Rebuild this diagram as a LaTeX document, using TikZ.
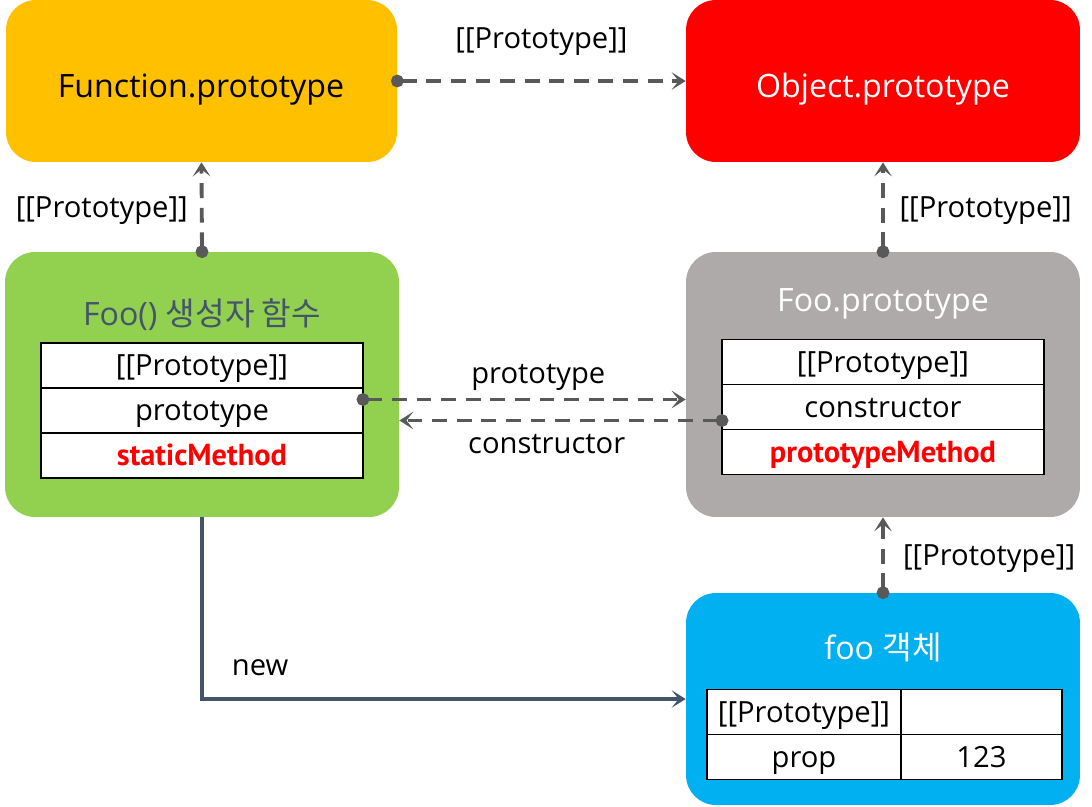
\documentclass[tikz,border=0pt]{standalone}
\usepackage{fontspec}
\setmainfont{Open Sans}
\newfontfamily\kr{Noto Sans CJK KR}
\newfontfamily\methodfont{PT Sans}
\usetikzlibrary{arrows.meta, positioning, calc}

\definecolor{fnyellow}{HTML}{FFC000}
\definecolor{objred}{HTML}{FF0000}
\definecolor{ctorgreen}{HTML}{92D050}
\definecolor{protogray}{HTML}{AEAAAA}
\definecolor{instblue}{HTML}{00B0F0}
\definecolor{slate}{HTML}{44546A}
\definecolor{linkgray}{HTML}{595959}

\begin{document}
\begin{tikzpicture}[
    x=0.02cm, y=-0.02cm,
    box/.style={rectangle, rounded corners=17pt, minimum width=7.88cm, minimum height=5.3cm},
    head/.style={font=\fontsize{18.3}{22}\selectfont, text height=13.7pt, text depth=4.5pt},
    row/.style={rectangle, draw, fill=white, line width=1.1pt, outer sep=0pt, inner ysep=0pt, minimum width=6.44cm, minimum height=0.9cm, font=\fontsize{16.6}{20}\selectfont, text height=15.8pt, text depth=4.2pt},
    method/.style={text=objred, font=\fontsize{17.3}{20}\selectfont\methodfont\bfseries},
    link/.style={draw=linkgray, line width=2.2pt, dash pattern=on 8.5pt off 5.5pt, {Circle[length=7.2pt]}-{Stealth[length=8pt, width=10pt, inset=4pt]}, shorten <=-3.6pt},
    newline/.style={draw=slate, line width=1.8pt, -{Stealth[length=8pt, width=10pt, inset=4pt]}},
    lbl/.style={font=\fontsize{16.6}{20}\selectfont, inner ysep=0pt, text height=15.8pt, text depth=4.2pt}
]
    \useasboundingbox (0,0) rectangle (1092,806);

    % top row
    \node[box, fill=fnyellow, minimum width=7.82cm, minimum height=3.24cm] (fnproto) at (201.5,81) {};
    \node[head] (fnTitle) at (201,89) {Function.prototype};
    \node[box, fill=objred, minimum height=3.24cm] (objproto) at (883,81) {};
    \node[head, text=white] (objTitle) at (883,89) {Object.prototype};

    % constructor function
    \node[box, fill=ctorgreen] (foo) at (202,384.5) {};
    \node[head, text=slate] (fooTitle) at (202,317) {Foo() {\kr 생성자 함수}};
    \node[row] (fooR1) at (202,365.5) {[[Prototype]]};
    \node[row, below=0pt of fooR1] (fooR2) {prototype};
    \node[row, method, below=0pt of fooR2] (fooR3) {staticMethod};

    % prototype object
    \node[box, fill=protogray] (fooproto) at (883,384.5) {};
    \node[head, text=white] (protoTitle) at (883,303) {Foo.prototype};
    \node[row] (protoR1) at (883,362) {[[Prototype]]};
    \node[row, below=0pt of protoR1] (protoR2) {constructor};
    \node[row, method, below=0pt of protoR2] (protoR3) {prototypeMethod};

    % instance
    \node[box, fill=instblue, minimum height=4.24cm] (inst) at (883,699) {};
    \node[head, text=white] (instTitle) at (883,651) {foo {\kr 객체}};
    \node[row, minimum width=3.88cm] (instR1a) at (804,712) {[[Prototype]]};
    \node[row, minimum width=3.22cm, right=0pt of instR1a] (instR1b) {};
    \node[row, minimum width=3.88cm, below=0pt of instR1a] (instR2a) {prop};
    \node[row, minimum width=3.22cm, right=0pt of instR2a] (instR2b) {123};

    \coordinate (protoOut) at ($(fooR2.east)+(0,-11)$);
    \coordinate (ctorOut) at ($(protoR2.west)+(0,13.5)$);

    % Arrows
    \draw[link] (fnproto.east) -- node[lbl, above=13pt] {[[Prototype]]} (objproto.west);
    \draw[link] (foo.north) -- node[lbl, left=3.5pt] {[[Prototype]]} (fnproto.south);
    \draw[link] (fooproto.north) -- node[lbl, right=5pt] {[[Prototype]]} (objproto.south);
    \draw[link] (inst.north) -- node[lbl, right=7pt] {[[Prototype]]} (fooproto.south);
    \draw[link] (protoOut) -- node[lbl, above=4pt, xshift=0.28cm] {prototype} (protoOut -| fooproto.west);
    \draw[link] (ctorOut) -- node[lbl, below=2pt, xshift=-0.28cm] {constructor} (ctorOut -| foo.east);
    \draw[newline] (foo.south) |- node[lbl, pos=0.56, above=8pt] {new} (inst.west);
\end{tikzpicture}
\end{document}
